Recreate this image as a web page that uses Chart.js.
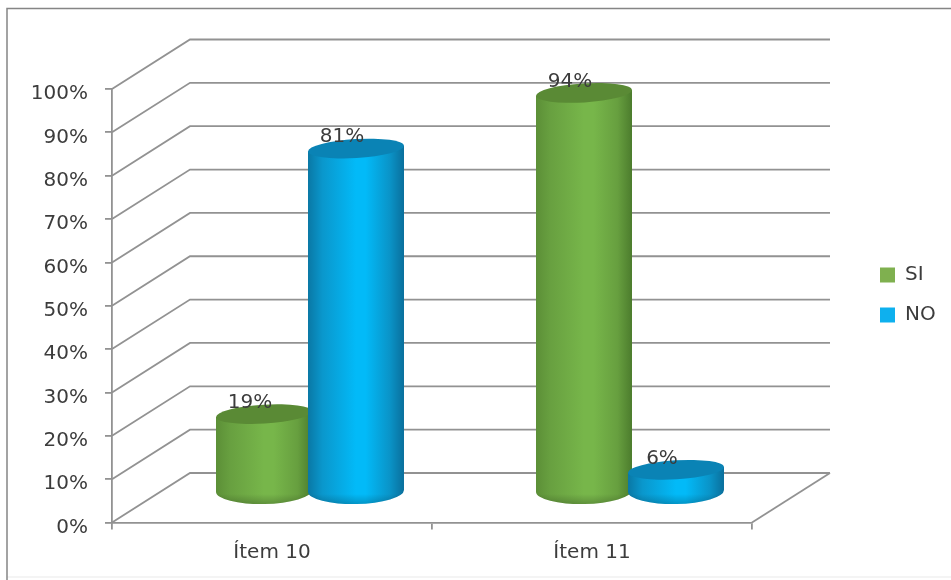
<!DOCTYPE html>
<html>
<head>
<meta charset="utf-8">
<style>
  html, body { margin: 0; padding: 0; background: #fff; }
  canvas { display: block; filter: blur(0.5px); }
</style>
</head>
<body>
<canvas id="myChart" width="951" height="580"></canvas>
<script src="https://cdn.jsdelivr.net/npm/chart.js@4"></script>
<script>
const categories = ['Ítem 10', 'Ítem 11'];
const siValues = [19, 94];
const noValues = [81, 6];

const FONT = '"DejaVu Sans", sans-serif';
const TEXT = '#3c3c3c';
const LINE = '#929292';
// depth of the fake 3d box, in pixels
const DEPTH_X = 78;
const DEPTH_Y = 49.5;
const BAR_SHIFT = 38;
const TOP_RY = 9.5;
const BOT_RY = 13;
const TOP_TILT = -0.06;
const BOT_TILT = -0.02;

const greenShades = { stops: ['#5c8f37', '#68a040', '#77b64a', '#77b64a', '#679f3f', '#4c7c2d'], top: '#5a8a35' };
const blueShades = { stops: ['#0a78a5', '#0a97cc', '#02baf8', '#02baf8', '#0a94c8', '#0a6f9c'], top: '#0a83b5' };
const gradStops = [0, 0.15, 0.5, 0.6, 0.85, 1];

function cylinderTop(el, base) {
  // the columns sit a bit lower in the box the taller they get
  return el.y - 27 + (base - el.y) * 0.012;
}

function drawCylinder(ctx, el, base, shades) {
  const cx = el.x + BAR_SHIFT;
  const rx = el.width / 2 + 2;
  const topY = cylinderTop(el, base);
  const botY = base - 31.5;
  const topLean = rx * Math.sin(TOP_TILT);
  const botLean = rx * Math.sin(BOT_TILT);

  const grad = ctx.createLinearGradient(cx - rx, 0, cx + rx, 0);
  gradStops.forEach(function (s, i) { grad.addColorStop(s, shades.stops[i]); });

  ctx.beginPath();
  ctx.moveTo(cx - rx, topY - topLean);
  ctx.lineTo(cx - rx, botY - botLean);
  ctx.ellipse(cx, botY, rx, BOT_RY, BOT_TILT, Math.PI, 0, true);
  ctx.lineTo(cx + rx, topY + topLean);
  ctx.closePath();
  ctx.fillStyle = grad;
  ctx.fill();

  // darker lip along the bottom
  ctx.save();
  ctx.clip();
  const lip = ctx.createLinearGradient(0, botY + 3, 0, botY + BOT_RY);
  lip.addColorStop(0, 'rgba(0, 0, 0, 0)');
  lip.addColorStop(1, 'rgba(0, 0, 0, 0.2)');
  ctx.fillStyle = lip;
  ctx.fillRect(cx - rx, botY + 3, rx * 2, BOT_RY + 3);
  ctx.restore();

  ctx.beginPath();
  ctx.ellipse(cx, topY, rx, TOP_RY, TOP_TILT, 0, Math.PI * 2);
  ctx.fillStyle = shades.top;
  ctx.fill();
}

const box3d = {
  id: 'box3d',
  beforeInit(chart) {
    // legend keeps the whole right hand strip, the back wall runs over it
    const fit = chart.legend.fit;
    chart.legend.fit = function () {
      fit.call(this);
      this.width = 199;
    };
  },
  afterLayout(chart) {
    const lg = chart.legend;
    lg.left = 860;
    lg.right = 951;
    lg.top = 245;
    lg.bottom = 360;
  },
  beforeDraw(chart) {
    const ctx = chart.ctx;
    ctx.save();
    ctx.lineWidth = 1.5;
    ctx.strokeStyle = '#f0f0f0';
    ctx.beginPath();
    ctx.moveTo(7, 577);
    ctx.lineTo(951, 577);
    ctx.stroke();
    ctx.strokeStyle = '#858585';
    ctx.beginPath();
    ctx.moveTo(7, 580);
    ctx.lineTo(7, 8.5);
    ctx.lineTo(951, 8.5);
    ctx.stroke();
    ctx.restore();
  },
  beforeDatasetsDraw(chart) {
    const ctx = chart.ctx;
    const y = chart.scales.y;
    const x = chart.scales.x;
    const left = x.left;
    const right = x.right;

    ctx.save();
    ctx.strokeStyle = LINE;
    ctx.lineWidth = 1.8;
    y.ticks.forEach(function (t, i) {
      const py = y.getPixelForTick(i);
      ctx.beginPath();
      ctx.moveTo(left, py);
      ctx.lineTo(left + DEPTH_X, py - DEPTH_Y);
      ctx.lineTo(right + DEPTH_X, py - DEPTH_Y);
      ctx.stroke();
    });
    ctx.beginPath();
    ctx.moveTo(right, y.bottom);
    ctx.lineTo(right + DEPTH_X, y.bottom - DEPTH_Y);
    ctx.stroke();

    chart.data.datasets.forEach(function (ds, i) {
      const shades = i === 0 ? greenShades : blueShades;
      chart.getDatasetMeta(i).data.forEach(function (el) {
        drawCylinder(ctx, el, y.bottom, shades);
      });
    });

    ctx.fillStyle = TEXT;
    ctx.font = '20px ' + FONT;
    ctx.textAlign = 'center';
    ctx.textBaseline = 'middle';
    chart.data.datasets.forEach(function (ds, i) {
      chart.getDatasetMeta(i).data.forEach(function (el, j) {
        ctx.fillText(ds.data[j] + '%', el.x + BAR_SHIFT - 14, cylinderTop(el, y.bottom) - 11.5);
      });
    });
    ctx.restore();
    return false;
  },
};

new Chart(document.getElementById('myChart').getContext('2d'), {
  type: 'bar',
  data: {
    labels: categories,
    datasets: [
      { label: 'SI', data: siValues, backgroundColor: '#7fb04f', borderWidth: 0 },
      { label: 'NO', data: noValues, backgroundColor: '#0eb0ee', borderWidth: 0 },
    ],
  },
  options: {
    responsive: false,
    animation: false,
    layout: { padding: { top: 89, left: 0, right: 0, bottom: 0 } },
    datasets: { bar: { categoryPercentage: 0.575, barPercentage: 1 } },
    plugins: {
      tooltip: { enabled: false },
      legend: {
        position: 'right',
        align: 'start',
        labels: {
          boxWidth: 15,
          boxHeight: 15,
          padding: 20,
          color: TEXT,
          font: { family: FONT, size: 20 },
        },
      },
    },
    scales: {
      y: {
        min: 0,
        max: 100,
        afterFit(scale) { scale.width = 112; },
        ticks: {
          stepSize: 10,
          padding: 17,
          labelOffset: 5,
          color: TEXT,
          font: { family: FONT, size: 20 },
          callback: function (value) { return value + '%'; },
        },
        grid: { drawOnChartArea: false, tickLength: 7, color: LINE, lineWidth: 1.8 },
        border: { color: LINE, width: 1.8 },
      },
      x: {
        afterFit(scale) { scale.height = 57.5; },
        ticks: {
          padding: 11,
          color: TEXT,
          font: { family: FONT, size: 20 },
        },
        grid: { drawOnChartArea: false, tickLength: 7, color: LINE, lineWidth: 1.8 },
        border: { color: LINE, width: 1.8 },
      },
    },
  },
  plugins: [box3d],
});
</script>
</body>
</html>
